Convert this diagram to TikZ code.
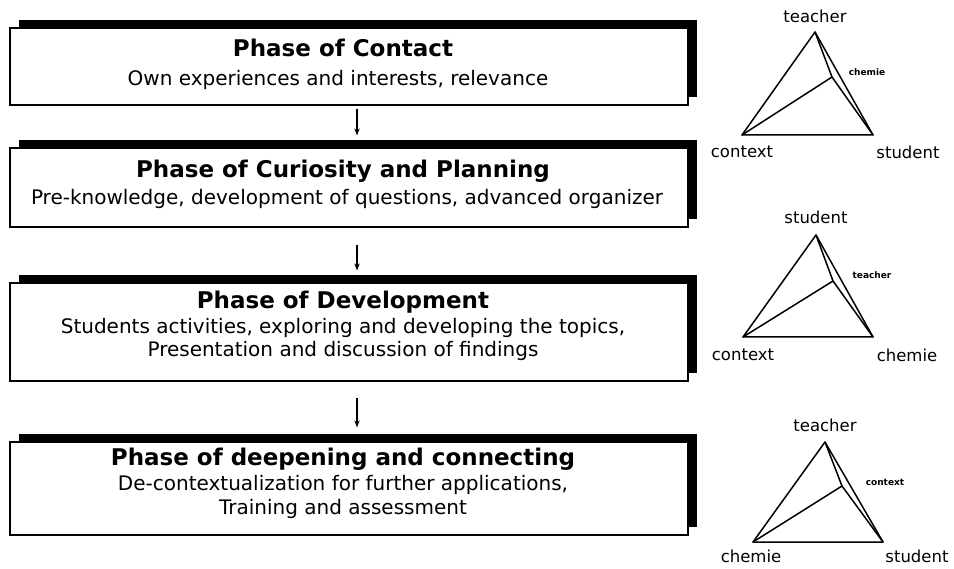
\documentclass[tikz,border=0pt]{standalone}
\usepackage{fontspec}
\setmainfont{DejaVu Sans}
\usetikzlibrary{arrows.meta,shadows}
\begin{document}
\begin{tikzpicture}[x=1pt,y=-1pt,
  phasebox/.style={draw=black, line width=1.2pt, fill=white, inner sep=0pt,
    minimum width=678pt,
    general shadow={fill=black, shadow xshift=8.5pt, shadow yshift=8pt}},
  phasetitle/.style={font=\fontsize{23}{27}\selectfont\bfseries, anchor=base, inner sep=0pt},
  phasetext/.style={font=\fontsize{20}{24}\selectfont, anchor=base, inner sep=0pt},
  flow/.style={line width=1.2pt, -{Stealth[length=7pt,width=5.5pt]}},
  edge/.style={line width=1.5pt, line join=round, line cap=round},
  vlabel/.style={font=\fontsize{16.5}{18}\selectfont, inner sep=0pt},
  slabel/.style={font=\fontsize{9}{10}\selectfont\bfseries, inner sep=0pt}]
\useasboundingbox (0,0) rectangle (954,569);

% ---- phase boxes ----
\node[phasebox, minimum height=77pt]  (b1) at (349,66.5) {};
\node[phasebox, minimum height=79pt]  (b2) at (349,187.5) {};
\node[phasebox, minimum height=98pt]  (b3) at (349,332) {};
\node[phasebox, minimum height=93pt]  (b4) at (349,488.5) {};

\node[phasetitle] (t1) at (343,57) {Phase of Contact};
\node[phasetext]  (s1) at (338,86) {Own experiences and interests, relevance};

\node[phasetitle] (t2) at (343,178) {Phase of Curiosity and Planning};
\node[phasetext]  (s2) at (347,205) {Pre-knowledge, development of questions, advanced organizer};

\node[phasetitle] (t3) at (343,309) {Phase of Development};
\node[phasetext]  (s3a) at (343,334) {Students activities, exploring and developing the topics,};
\node[phasetext]  (s3b) at (343,357) {Presentation and discussion of findings};

\node[phasetitle] (t4) at (343,465) {Phase of deepening and connecting};
\node[phasetext]  (s4a) at (343,490) {De-contextualization for further applications,};
\node[phasetext]  (s4b) at (343,514) {Training and assessment};

% ---- arrows between phases ----
\draw[flow] ([xshift=8pt,yshift=-3pt]b1.south) -- ([xshift=8pt,yshift=12pt]b2.north);
\draw[flow] ([xshift=8pt,yshift=-17pt]b2.south) -- ([xshift=8pt,yshift=12pt]b3.north);
\draw[flow] ([xshift=8pt,yshift=-16pt]b3.south) -- ([xshift=8pt,yshift=14pt]b4.north);

% ---- tetrahedra ----
% first: teacher / context / student, chemie behind
\coordinate (a1) at (815,32);
\coordinate (l1) at (742,135);
\coordinate (r1) at (873,135);
\coordinate (i1) at (832,77);
\draw[edge] (a1) -- (l1) -- (r1) -- cycle;
\draw[edge] (l1) -- (i1) -- (r1);
\draw[edge] (a1) -- (i1);
\node[vlabel] (n1a) at (815,16) {teacher};
\node[slabel] (n1i) at (867,72) {chemie};
\node[vlabel] (n1l) at (742,152) {context};
\node[vlabel] (n1r) at (908,152) {student};

% second: student / context / chemie, teacher behind
\coordinate (a2) at (816,235);
\coordinate (l2) at (743,337);
\coordinate (r2) at (873,337);
\coordinate (i2) at (833,281);
\draw[edge] (a2) -- (l2) -- (r2) -- cycle;
\draw[edge] (l2) -- (i2) -- (r2);
\draw[edge] (a2) -- (i2);
\node[vlabel] (n2a) at (816,217) {student};
\node[slabel] (n2i) at (872,275) {teacher};
\node[vlabel] (n2l) at (743,355) {context};
\node[vlabel] (n2r) at (907,355) {chemie};

% third: teacher / chemie / student, context behind
\coordinate (a3) at (825,442);
\coordinate (l3) at (753,542);
\coordinate (r3) at (883,542);
\coordinate (i3) at (842,486);
\draw[edge] (a3) -- (l3) -- (r3) -- cycle;
\draw[edge] (l3) -- (i3) -- (r3);
\draw[edge] (a3) -- (i3);
\node[vlabel] (n3a) at (825,425) {teacher};
\node[slabel] (n3i) at (885,482) {context};
\node[vlabel] (n3l) at (751,556) {chemie};
\node[vlabel] (n3r) at (917,556) {student};
\end{tikzpicture}
\end{document}
